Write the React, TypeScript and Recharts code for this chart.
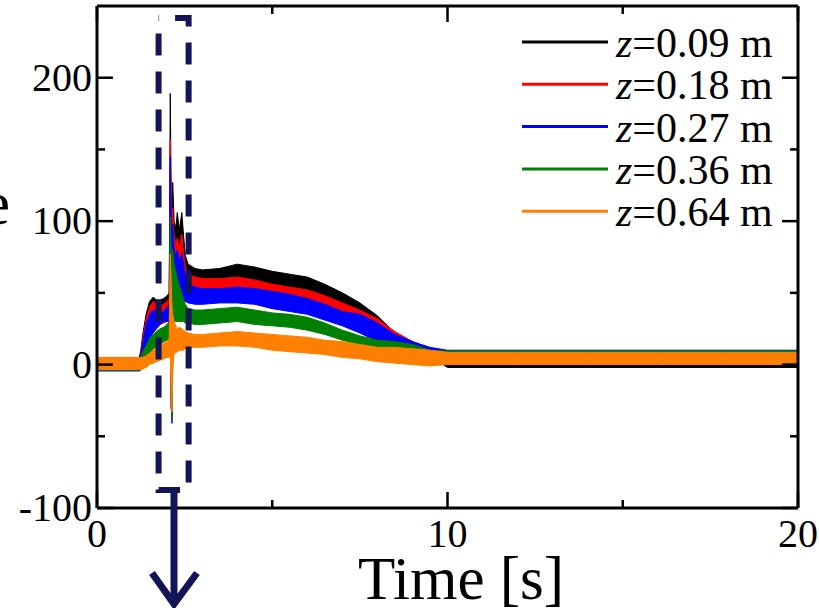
import React from "react";
import { Area, ComposedChart, Legend, ReferenceArea, XAxis, YAxis } from "recharts";

// sample times [s], dense around the spike at ~2.1 s
const times = [0, 1.2, 1.25, 1.3, 1.4, 1.5, 1.6, 1.7, 1.8, 1.9, 2.0, 2.06, 2.09, 2.12, 2.14, 2.16, 2.2, 2.25, 2.29, 2.35, 2.42, 2.47, 2.52, 2.6, 2.8, 3.0, 3.5, 4.0, 4.5, 5.0, 5.5, 6.0, 6.5, 7.0, 7.5, 8.0, 8.5, 9.0, 9.5, 10, 12, 14, 16, 18, 20];

// noise envelope (low / high) of each trace
const z009Hi = [4.5, 4.5, 10, 20, 35, 44, 47, 45, 45, 46, 48, 50, 189, 110, 100, 127, 100, 95, 106, 94, 106, 90, 76, 70, 67, 66, 67, 70, 68, 65, 63, 61, 56, 50, 43, 34, 22, 16, 11, 7, 7, 7, 7, 7, 7];
const z009Lo = [-4, -4, -3, 5, 15, 25, 30, 30, 30, 31, 32, 34, 40, -30, -36, 20, 50, 55, 55, 55, 55, 55, 55, 55, 55, 55, 56, 58, 56, 52, 52, 50, 46, 40, 34, 25, 16, 11, 6, -2, -2, -2, -2, -2, -2];
const z018Hi = [4.5, 4.5, 8, 17, 32, 40, 44, 42, 41, 42, 44, 46, 157, 100, 100, 109, 90, 84, 88, 82, 91, 78, 68, 63, 61, 60, 60, 61, 59, 56, 54, 52, 48, 43, 38, 32, 23, 16, 11, 9.5, 9.5, 9.5, 9.5, 9.5, 9.5];
const z018Lo = [-4, -4, -3, 4, 13, 22, 27, 27, 28, 29, 30, 32, 40, -30, -38, 20, 48, 50, 50, 50, 50, 50, 50, 50, 50, 50, 50, 52, 50, 47, 46, 44, 40, 34, 28, 22, 15, 11, 7, 1, 1, 1, 1, 1, 1];
const z027Hi = [4.5, 4.5, 7, 14, 28, 35, 38, 37, 36, 37, 40, 42, 145, 95, 92, 98, 80, 75, 80, 72, 78, 70, 62, 56, 54, 53, 53, 54, 53, 51, 49, 46, 42, 37, 35, 29, 21, 16, 12, 10, 10, 10, 10, 10, 10];
const z027Lo = [-4.5, -4.5, -4, 3, 10, 18, 22, 25, 28, 30, 30, 30, 40, -30, -41, 20, 45, 45, 45, 45, 44, 44, 44, 43, 42, 42, 43, 43, 42, 39, 37, 35, 31, 27, 22, 16, 13, 10, 7, 1, 1, 1, 1, 1, 1];
const z036Hi = [4.5, 4.5, 5, 9, 13, 18, 21, 23, 25, 26, 28, 30, 103, 75, 70, 80, 70, 65, 60, 55, 50, 45, 42, 39, 38, 38, 39, 40, 38, 36, 35, 33, 29, 24, 20, 17, 16, 14, 10, 9.5, 9.5, 9.5, 9.5, 9.5, 9.5];
const z036Lo = [-4, -4, -4, 0, 4, 8, 11, 12, 14, 16, 17, 18, 25, -30, -38, 15, 30, 30, 30, 30, 30, 30, 29, 29, 28, 28, 29, 30, 28, 27, 26, 24, 21, 17, 14, 12, 9, 9, 6, 1, 1, 1, 1, 1, 1];
const z064Hi = [5, 5, 5, 5, 6, 8, 10, 12, 13, 15, 16, 18, 77, 55, 40, 35, 30, 27, 25, 26, 25, 24, 23, 22, 21, 21, 22, 23, 22, 21, 20, 19, 17, 16, 14, 12, 12, 11, 10, 8.5, 8.5, 8.5, 8.5, 8.5, 8.5];
const z064Lo = [-3.5, -3.5, -3.5, -3, -2, 0, 1, 2, 3, 4, 5, 5, 10, -25, -33, -5, 8, 8, 9, 10, 10, 10, 11, 12, 12, 12, 13, 13, 12, 10, 9, 8, 7, 5, 4, 2, 1, 0, -1, 0, 0, 0, 0, 0, 0];

const xTicks = [0, 5, 10, 15, 20];
const yTicks = [-100, -50, 0, 50, 100, 150, 200];

const series = [
  { key: "z009", label: "0.09", color: "#000000", lo: z009Lo, hi: z009Hi },
  { key: "z018", label: "0.18", color: "#ff0000", lo: z018Lo, hi: z018Hi },
  { key: "z027", label: "0.27", color: "#0000ff", lo: z027Lo, hi: z027Hi },
  { key: "z036", label: "0.36", color: "#008000", lo: z036Lo, hi: z036Hi },
  { key: "z064", label: "0.64", color: "#ff8000", lo: z064Lo, hi: z064Hi },
];

const rows = times.map((t, i) => {
  const row: Record<string, any> = { t };
  series.forEach((s) => {
    row[s.key] = [s.lo[i], s.hi[i]];
  });
  return row;
});

// dashed window around the spike (data units)
const spikeBox = { x1: 1.757, x2: 2.614, y1: -87.4, y2: 241.6 };

const FONT = "'Liberation Serif', 'Times New Roman', serif";
const NAVY = "#141458";

const LeftTick = (props: any) => {
  const { x, y, payload } = props;
  const major = payload.value % 100 === 0;
  return (
    <g>
      <line x1={x} y1={y} x2={x + (major ? 16 : 8)} y2={y} stroke="#000" strokeWidth={2.5} />
      {major && (
        <text x={x - 5} y={y + 13} textAnchor="end" fontFamily={FONT} fontSize={40} fill="#000">
          {payload.value}
        </text>
      )}
    </g>
  );
};

const RightTick = (props: any) => {
  const { x, y, payload } = props;
  const major = payload.value % 100 === 0;
  return <line x1={x} y1={y} x2={x - (major ? 16 : 8)} y2={y} stroke="#000" strokeWidth={2.5} />;
};

const BottomTick = (props: any) => {
  const { x, y, payload } = props;
  const major = payload.value % 10 === 0;
  return (
    <g>
      <line x1={x} y1={y} x2={x} y2={y - (major ? 16 : 8)} stroke="#000" strokeWidth={2.5} />
      {major && (
        <text x={x} y={y + 39} textAnchor="middle" fontFamily={FONT} fontSize={40} fill="#000">
          {payload.value}
        </text>
      )}
    </g>
  );
};

const TopTick = (props: any) => {
  const { x, y, payload } = props;
  const major = payload.value % 10 === 0;
  return <line x1={x} y1={y} x2={x} y2={y + (major ? 16 : 8)} stroke="#000" strokeWidth={2.5} />;
};

const LegendBox = () => (
  <svg width={300} height={240}>
    {series.map((s, i) => {
      const y = 24 + i * 42.3;
      return (
        <g key={s.key}>
          <line x1={7} y1={y} x2={93} y2={y} stroke={s.color} strokeWidth={3} />
          <text x={101} y={y + 15} fontFamily={FONT} fontSize={42} fill="#000">
            <tspan fontStyle="italic">z</tspan>={s.label} m
          </text>
        </g>
      );
    })}
  </svg>
);

export default function App() {
  return (
    <div style={{ position: "absolute", left: 0, top: 0, width: 819, height: 608, background: "#fff" }}>
      <ComposedChart width={819} height={608} data={rows} margin={{ top: 5, right: 20, bottom: 99, left: 96 }}>
        <XAxis
          xAxisId="bottom"
          type="number"
          dataKey="t"
          domain={[0, 20]}
          ticks={xTicks}
          interval={0}
          allowDataOverflow
          height={1}
          tickSize={0}
          tickMargin={0}
          tickLine={false}
          axisLine={{ stroke: "#000", strokeWidth: 3 }}
          tick={<BottomTick />}
        />
        <XAxis
          xAxisId="top"
          orientation="top"
          type="number"
          dataKey="t"
          domain={[0, 20]}
          ticks={xTicks}
          interval={0}
          allowDataOverflow
          height={1}
          tickSize={0}
          tickMargin={0}
          tickLine={false}
          axisLine={{ stroke: "#000", strokeWidth: 3 }}
          tick={<TopTick />}
        />
        <YAxis
          yAxisId="left"
          type="number"
          domain={[-100, 250]}
          ticks={yTicks}
          interval={0}
          allowDataOverflow
          width={1}
          tickSize={0}
          tickMargin={0}
          tickLine={false}
          axisLine={{ stroke: "#000", strokeWidth: 3 }}
          tick={<LeftTick />}
        />
        <YAxis
          yAxisId="right"
          orientation="right"
          type="number"
          domain={[-100, 250]}
          ticks={yTicks}
          interval={0}
          allowDataOverflow
          width={1}
          tickSize={0}
          tickMargin={0}
          tickLine={false}
          axisLine={{ stroke: "#000", strokeWidth: 3 }}
          tick={<RightTick />}
        />
        {series.map((s) => (
          <Area
            key={s.key}
            xAxisId="bottom"
            yAxisId="left"
            type="linear"
            dataKey={s.key}
            stroke={s.color}
            strokeWidth={1}
            fill={s.color}
            fillOpacity={1}
            dot={false}
            activeDot={false}
            isAnimationActive={false}
          />
        ))}
        <ReferenceArea
          xAxisId="bottom"
          yAxisId="left"
          x1={spikeBox.x1}
          x2={spikeBox.x2}
          y1={spikeBox.y1}
          y2={spikeBox.y2}
          fill="none"
          fillOpacity={0}
          stroke={NAVY}
          strokeWidth={6}
          strokeDasharray="22 16"
          strokeDashoffset={21.5}
          ifOverflow="visible"
        />
        <Legend
          layout="vertical"
          align="center"
          verticalAlign="middle"
          wrapperStyle={{ position: "absolute", left: 515, top: 18, width: 300, height: 240 }}
          content={() => <LegendBox />}
        />
      </ComposedChart>
      <svg width={819} height={608} style={{ position: "absolute", left: 0, top: 0, pointerEvents: "none" }}>
        <text x={10} y={224} textAnchor="end" fontFamily={FONT} fontSize={62} fill="#000">
          e
        </text>
        <text x={461} y={599} textAnchor="middle" fontFamily={FONT} fontSize={61} fill="#000">
          Time [s]
        </text>
        <path d="M174 490 V604" stroke={NAVY} strokeWidth={7} fill="none" />
        <path d="M152 573 L174 604 L197 573" stroke={NAVY} strokeWidth={7} fill="none" strokeLinejoin="miter" />
      </svg>
    </div>
  );
}
